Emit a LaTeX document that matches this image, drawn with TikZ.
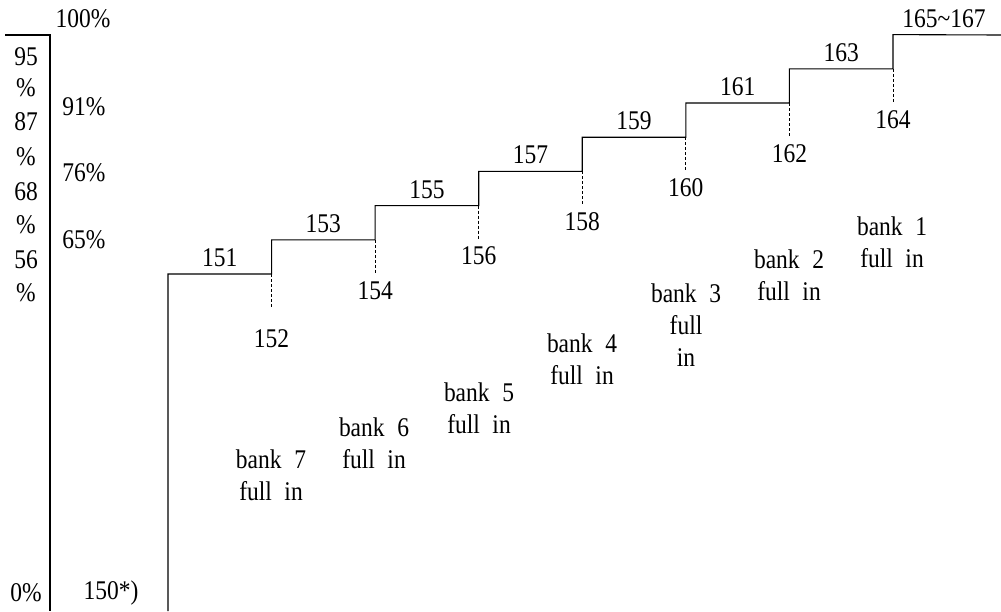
\documentclass[tikz,border=0pt]{standalone}
\usepackage{fontspec}
\setmainfont[FakeStretch=0.87]{Liberation Serif}
\usetikzlibrary{positioning}
\newcommand{\wgap}{\hspace{12.6pt}}
\tikzset{
  numlbl/.style={inner sep=7pt, font=\fontsize{27}{31.5}\selectfont},
  pctlbl/.style={inner sep=0pt, font=\fontsize{27}{31.5}\selectfont},
  banklbl/.style={align=center, inner sep=0pt, font=\fontsize{27}{32}\selectfont},
  stair/.style={line width=1.1pt, black},
  riserdash/.style={line width=1pt, dash pattern=on 3pt off 2pt}
}

\begin{document}
\begin{tikzpicture}[x=1pt, y=-1pt]
                \useasboundingbox (0,0) rectangle (1001,611);
                \coordinate (axleft) at (5,35);
                \coordinate (axtop) at (50,35);
                \coordinate (axbot) at (50,611);
                \draw[stair] (axleft) -- (axtop) -- (axbot);
                \foreach \t/\y in {95/57, \%/88, 87/122, \%/157, 68/192, \%/225, 56/260, \%/293, 0\%/593}
                    \node[pctlbl] at (26,\y) {\t};
                \node[pctlbl] (pct100) at (83,19) {100\%};
                \node[pctlbl] (pct91) at (84,107) {91\%};
                \node[pctlbl] (pct76) at (84,173) {76\%};
                \node[pctlbl] (pct65) at (84,240) {65\%};
                \node[pctlbl] (start) at (111,593) {150*)};
                \foreach \i in {0,...,7}{
                    \coordinate (s\i) at ({168+103.57*\i},{274-34.2*\i});
                    \coordinate (b\i) at ({168+103.57*\i},{308.2-34.2*\i});
                    \coordinate (d\i) at ({168+103.57*\i},{342.4-34.2*\i});
                }
                \coordinate (base) at (168,611);
                \coordinate (tail) at (1001,35);
                \draw[stair] (base) -- (s0) \foreach \i in {1,...,7}{ -- (b\i) -- (s\i)} -- (tail);
                \foreach \i in {0,...,6}{
                    \pgfmathtruncatemacro{\up}{151+2*\i}
                    \node[numlbl, above] (up\i) at ({168+103.57*(\i+0.5)},{274-34.2*\i}) {\up};
                }
                \node[numlbl, above] (up7) at (944,35) {165\textasciitilde167};
                \foreach \i/\sh in {1/14, 2/0, 3/0, 4/0, 5/0, 6/0, 7/0}{
                    \pgfmathtruncatemacro{\lo}{150+2*\i}
                    \draw[riserdash] (b\i) -- (d\i);
                    \node[numlbl, below, yshift=-\sh pt] (lo\i) at (d\i) {\lo};
                }
                \node[banklbl] (bank7) at (271,475) {bank\wgap7\\full\wgap in};
                \node[banklbl] (bank6) at (374,443) {bank\wgap6\\full\wgap in};
                \node[banklbl] (bank5) at (479,408) {bank\wgap5\\full\wgap in};
                \node[banklbl] (bank4) at (582,359) {bank\wgap4\\full\wgap in};
                \node[banklbl] (bank3) at (686,325) {bank\wgap3\\full\\in};
                \node[banklbl] (bank2) at (789,275) {bank\wgap2\\full\wgap in};
                \node[banklbl] (bank1) at (892,242) {bank\wgap1\\full\wgap in};
            \end{tikzpicture}
\end{document}
